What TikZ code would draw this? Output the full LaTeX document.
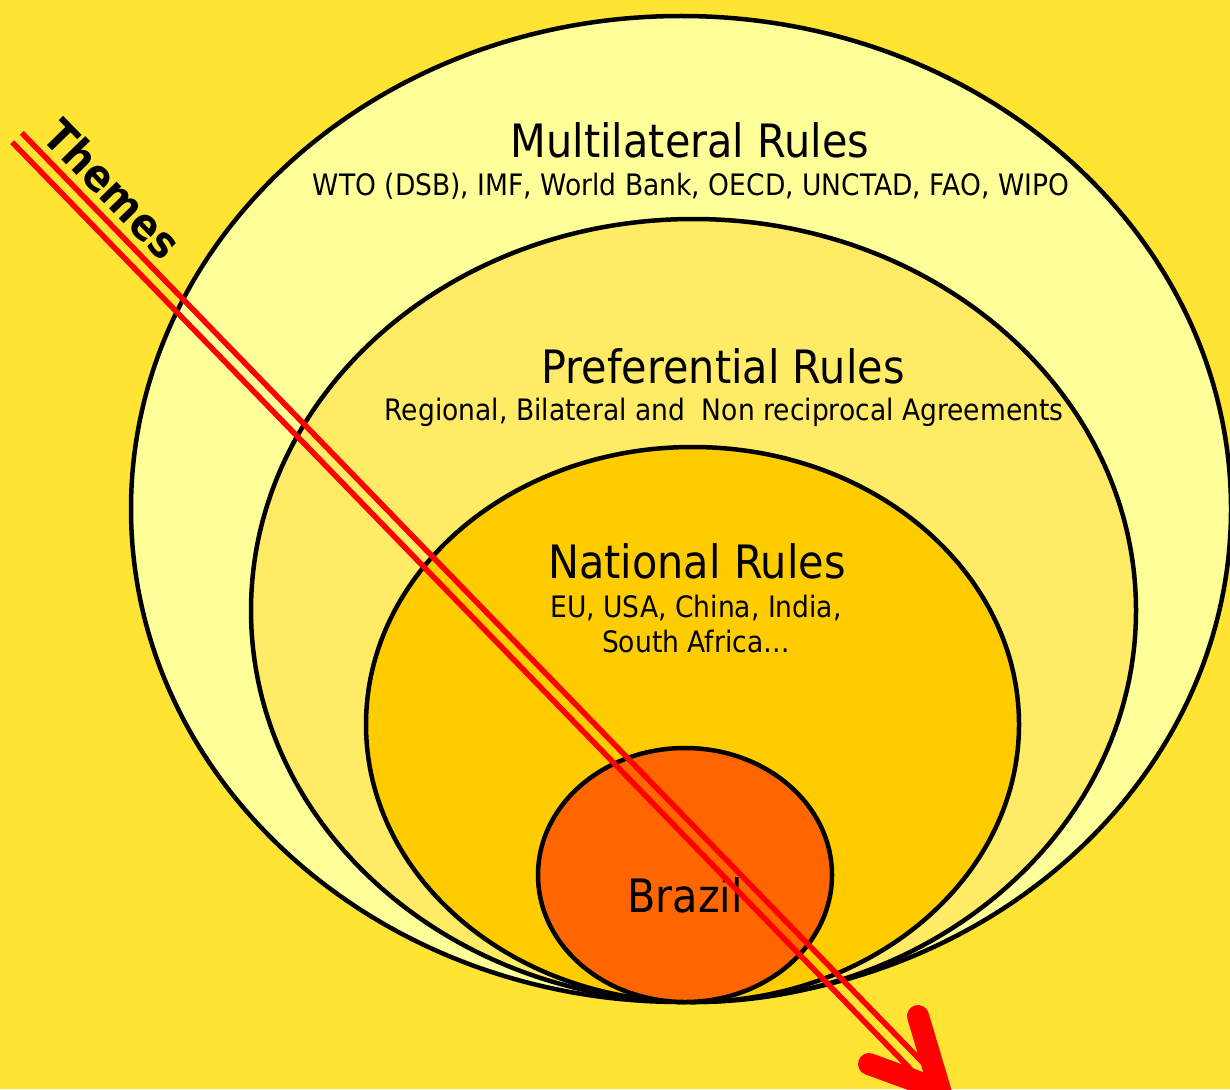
\documentclass[tikz,border=0pt]{standalone}
\usepackage{fontspec}
\setmainfont{DejaVu Sans}[FakeStretch=0.9]
\usetikzlibrary{shapes.geometric}

\definecolor{bgyellow}{HTML}{FFE433}
\definecolor{multifill}{HTML}{FFFF99}
\definecolor{preffill}{HTML}{FFEB66}
\definecolor{natfill}{HTML}{FFCC00}
\definecolor{brazilfill}{HTML}{FF6600}
\definecolor{themered}{HTML}{FF0000}

\begin{document}
\begin{tikzpicture}[x=1pt,y=-1pt,
  ring/.style={ellipse, draw=black, line width=4.5pt, inner sep=0pt, outer sep=0pt},
  titletext/.style={anchor=base, inner sep=0pt, font=\fontsize{46}{50}\selectfont},
  subtext/.style={anchor=base, inner sep=0pt, font=\fontsize{29.5}{33}\selectfont},
  themeline/.style={draw=themered, line width=5.5pt},
  themehead/.style={draw=themered, line width=22pt, line cap=round, line join=miter}
]
% page and background
\useasboundingbox (0,0) rectangle (1230,1089);
\fill[bgyellow] (0,0) rectangle (1230,1089);

% nested rule levels
\node[ring, fill=multifill, minimum width=1100pt, minimum height=986pt] (multi) at (681,509) {};
\node[ring, fill=preffill, minimum width=885pt, minimum height=783pt] (pref) at (693.5,610.5) {};
\node[ring, fill=natfill, minimum width=653pt, minimum height=555pt] (nat) at (692.5,724.5) {};
\node[ring, fill=brazilfill, minimum width=294pt, minimum height=254pt] (brazil) at (685,875) {};

% labels
\node[titletext] (multiT) at (690,157) {Multilateral Rules};
\node[subtext] (multiS) at (691,195) {WTO (DSB), IMF, World Bank, OECD, UNCTAD, FAO, WIPO};
\node[titletext] (prefT) at (723,383) {Preferential Rules};
\node[subtext] (prefS) at (724,420) {Regional, Bilateral and\ \ Non reciprocal Agreements};
\node[titletext] (natT) at (697,578) {National Rules};
\node[subtext] (natS1) at (696,617) {EU, USA, China, India,};
\node[subtext] (natS2) at (696,652) {South Africa…};
\node[titletext] (brazilT) at (685,912) {Brazil};

% themes arrow
\coordinate (tStart) at (17,137.5);
\coordinate (tTip) at (940,1090);
\coordinate (armL) at (869,1064);
\coordinate (armR) at (918,1016);
\draw[themeline] ([shift={(4.8,-4.67)}]tStart) -- ([shift={(4.8,-4.67)}]tTip);
\draw[themeline] ([shift={(-4.8,4.67)}]tStart) -- ([shift={(-4.8,4.67)}]tTip);
\draw[themehead] (armL) -- (tTip) -- (armR);

\node[font=\bfseries\fontsize{44}{48}\selectfont, inner sep=0pt, rotate=-45.8] (themes) at (113,189) {Themes};
\end{tikzpicture}
\end{document}
